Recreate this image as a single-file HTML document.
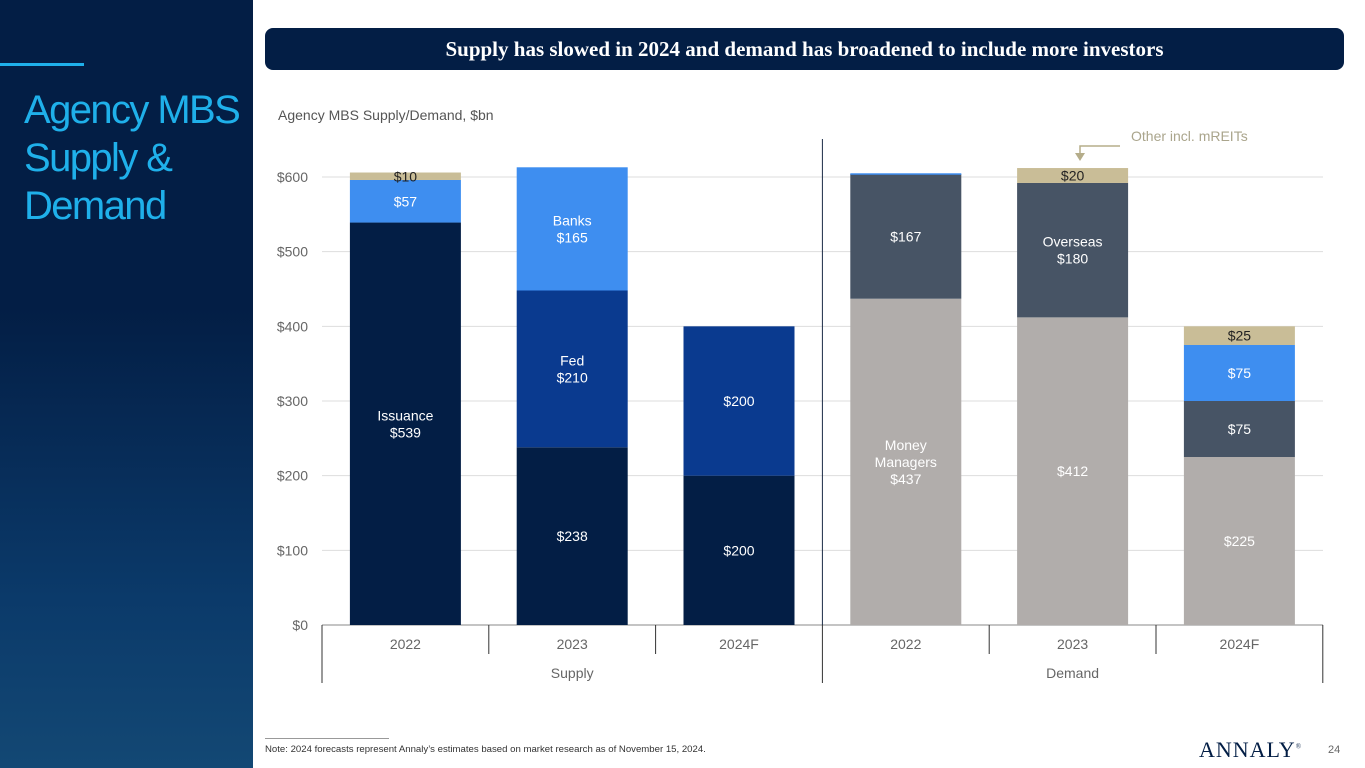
<!DOCTYPE html>
<html><head><meta charset="utf-8"><style>
body{margin:0;width:1365px;height:768px;overflow:hidden;background:#fff;font-family:"Liberation Sans",sans-serif;position:relative}
#side{position:absolute;left:0;top:0;width:253px;height:768px;background:linear-gradient(180deg,#031e45 0%,#031e45 40%,#0b3a6a 78%,#134874 100%)}
#side .bar{position:absolute;left:0;top:63px;width:84px;height:3px;background:#1fb0ea}
#side h1{position:absolute;left:24px;top:86px;margin:0;font-weight:normal;color:#1fb0ea;font-size:40px;line-height:48px;letter-spacing:-1.6px}
#banner{position:absolute;left:265px;top:28px;width:1079px;height:42px;background:#031e45;border-radius:8px;color:#fff;font-family:"Liberation Serif",serif;font-weight:bold;font-size:21px;text-align:center;line-height:42px}
#note{position:absolute;left:265px;top:744px;font-size:9.6px;color:#333}
#noteline{position:absolute;left:265px;top:738px;width:124px;height:1px;background:#999}
#logo{position:absolute;left:1199px;top:737px;font-family:"Liberation Serif",serif;font-size:22px;color:#031e45;letter-spacing:1px}
#pg{position:absolute;left:1328px;top:744px;font-size:11px;color:#666}
svg{position:absolute;left:0;top:0}
</style></head><body>
<div id="side"><div class="bar"></div><h1>Agency MBS<br>Supply &amp;<br>Demand</h1></div>
<div id="banner">Supply has slowed in 2024 and demand has broadened to include more investors</div>
<div id="noteline"></div>
<div id="note">Note: 2024 forecasts represent Annaly’s estimates based on market research as of November 15, 2024.</div>
<div id="logo">ANNALY<sup style="font-size:7px">®</sup></div>
<div id="pg">24</div>
<svg id="chart" width="1365" height="768"></svg>
<script>
const categories=["2022","2023","2024F","2022","2023","2024F"];
const groups=["Supply","Demand"];
const issuance=[539,238,200,0,0,0];
const fed=[0,210,200,0,0,0];
const moneyManagers=[0,0,0,437,412,225];
const overseas=[0,0,0,167,180,75];
const banks=[57,165,0,1,0,75];
const other=[10,0,0,0,20,25];
const ticks=[0,100,200,300,400,500,600];
const issuanceNames=["Issuance","","","","",""];
const fedNames=["","Fed","","","",""];
const mmNames=["","","","Money\nManagers","",""];
const overseasNames=["","","","","Overseas",""];
const banksNames=["","Banks","","","",""];
const series=[
 {v:issuance,n:issuanceNames,c:"#031e45",t:"#fff",k:"issuance"},
 {v:fed,n:fedNames,c:"#0a3a8f",t:"#fff",k:"fed"},
 {v:moneyManagers,n:mmNames,c:"#b1adab",t:"#fff",k:"money-managers"},
 {v:overseas,n:overseasNames,c:"#475465",t:"#fff",k:"overseas"},
 {v:banks,n:banksNames,c:"#3e8ef0",t:"#fff",k:"banks"},
 {v:other,n:["","","","","",""],c:"#c9bd97",t:"#222",k:"other"}];
const svg=document.getElementById('chart');const NS="http://www.w3.org/2000/svg";
const y0=625,pxPer=448/600;const y=v=>y0-v*pxPer;
const x0=322,step=166.8,bw=111;const xc=i=>x0+step*(i+0.5);
function mk(tag,attrs,txt){const e=document.createElementNS(NS,tag);for(const k in attrs)e.setAttribute(k,attrs[k]);if(txt!=null)e.textContent=txt;svg.appendChild(e);return e;}
let e=mk('text',{x:278,y:120,'font-size':14,fill:'#555'},'Agency MBS Supply/Demand, $bn');

ticks.forEach(t=>{
 if(t>0){let g=mk('line',{x1:322,x2:1323,y1:y(t),y2:y(t),stroke:'#ddd','stroke-width':1});}
 let l=mk('text',{x:308,y:y(t)+5,'font-size':14,fill:'#666','text-anchor':'end'},'$'+t);
 
});
let ax=mk('line',{x1:322,x2:1323,y1:y0,y2:y0,stroke:'#888'});
categories.forEach((c,i)=>{
 let base=0;
 series.forEach(s=>{const v=s.v[i];if(!v)return;
  let r=mk('rect',{x:xc(i)-bw/2,y:y(base+v),width:bw,height:Math.max(v*pxPer,1.5),fill:s.c});
  
  if(v>=5){const lines=(s.n[i]?s.n[i].split("\n"):[]).concat(['$'+v]);const mid=y(base+v/2);
   lines.forEach((ln,j)=>{let t=mk('text',{x:xc(i),y:mid+5+(j-(lines.length-1)/2)*17,'font-size':14,fill:s.t,'text-anchor':'middle'},ln);
    });}
  base+=v;});
 let t=mk('text',{x:xc(i),y:649,'font-size':14,fill:'#666','text-anchor':'middle'},c);
 
});
for(let i=0;i<=6;i++){const xx=x0+step*i;const tall=(i%3==0);
 let l=mk('line',{x1:xx,x2:xx,y1:y0,y2:tall?683:654,stroke:'#333'});}
groups.forEach((g,i)=>{let t=mk('text',{x:x0+step*(1.5+3*i),y:678,'font-size':14,fill:'#666','text-anchor':'middle'},g);
 });
let d=mk('line',{x1:x0+step*3,x2:x0+step*3,y1:139,y2:y0,stroke:'#1a2a45'});
let p=mk('polyline',{points:'1120,146 1080,146 1080,156',fill:'none',stroke:'#b5ad8a','stroke-width':1.5});
let ah=mk('polygon',{points:'1075,153 1085,153 1080,161',fill:'#b5ad8a'});
let an=mk('text',{x:1131,y:141,'font-size':14,fill:'#aaa58c'},'Other incl. mREITs');
</script>
</body></html>
